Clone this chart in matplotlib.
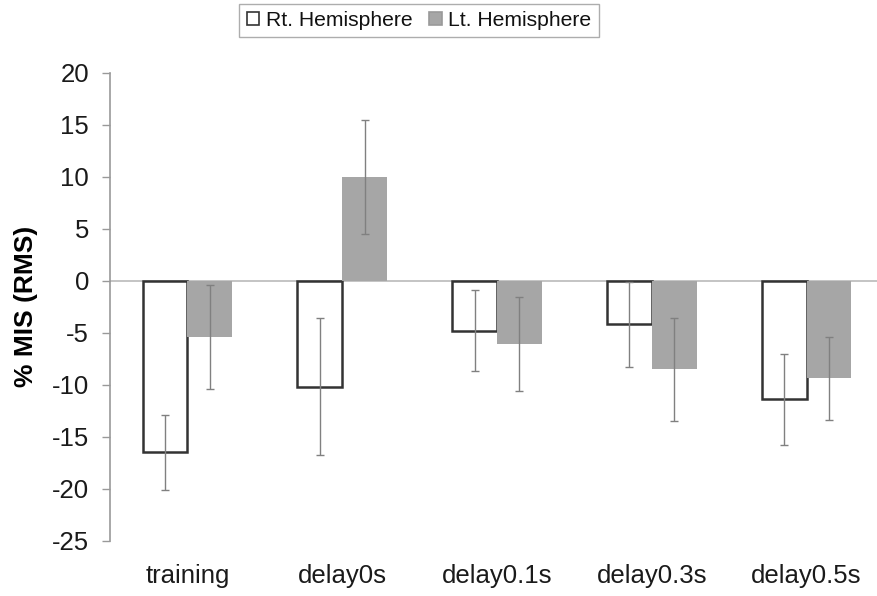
import matplotlib
matplotlib.use("Agg")
import matplotlib.pyplot as plt
import numpy as np

categories = ["training", "delay0s", "delay0.1s", "delay0.3s", "delay0.5s"]
rt_values = [-16.5, -10.2, -4.8, -4.2, -11.4]
rt_errors = [3.6, 6.6, 3.9, 4.1, 4.35]
lt_values = [-5.4, 10.0, -6.1, -8.5, -9.4]
lt_errors = [5.0, 5.5, 4.5, 4.95, 4.0]
y_ticks = [20, 15, 10, 5, 0, -5, -10, -15, -20, -25]

plt.rcParams["font.family"] = ["Liberation Sans", "DejaVu Sans"]

fig = plt.figure(figsize=(8.77, 5.96), dpi=100)
ax = fig.add_axes([110 / 877, 1 - 540.7 / 596, 774 / 877, 468 / 596])

x = np.arange(len(categories))
w = 0.29

ax.axhline(0, color="#c4c4c4", lw=1.4, zorder=1)

ax.bar(x - w / 2, rt_values, width=w, color="white", edgecolor="#333333",
       linewidth=1.8, zorder=2, label="Rt. Hemisphere")
ax.bar(x + w / 2, lt_values, width=w, color="#a6a6a6", edgecolor="none",
       zorder=2, label="Lt. Hemisphere")

err_style = dict(fmt="none", ecolor="#808080", elinewidth=1.0, capsize=2.6,
                 capthick=1.0, zorder=3)
ax.errorbar(x - w / 2, rt_values, yerr=rt_errors, **err_style)
ax.errorbar(x + w / 2, lt_values, yerr=lt_errors, **err_style)

ax.set_xlim(-0.5, len(categories) - 0.5)
ax.set_ylim(-25, 20)
ax.set_yticks(y_ticks)
ax.set_yticklabels([str(v) for v in y_ticks], fontsize=18.5, color="#1a1a1a")
ax.set_xticks(x)
ax.set_xticklabels(categories, fontsize=18.5, color="#1a1a1a")
ax.tick_params(axis="x", length=0, pad=17)
ax.tick_params(axis="y", direction="out", length=6, width=1, color="#999999", pad=9)

for side in ("top", "right", "bottom"):
    ax.spines[side].set_visible(False)
ax.spines["left"].set_color("#999999")
ax.spines["left"].set_linewidth(1.2)

ax.set_ylabel("% MIS (RMS)", fontsize=19, fontweight="bold", labelpad=10)

leg = fig.legend(loc="center", bbox_to_anchor=(419 / 877, 1 - 20.5 / 596),
                 ncol=2, fontsize=15.2, frameon=True, fancybox=False,
                 handlelength=0.6, handleheight=0.6, handletextpad=0.3,
                 columnspacing=0.8, borderpad=0.35, borderaxespad=0)
leg.get_frame().set_edgecolor("#999999")
leg.get_frame().set_linewidth(1.0)
for t in leg.get_texts():
    t.set_color("#111111")
for h in leg.legend_handles:
    h.set_linewidth(1.2)
leg.legend_handles[1].set_edgecolor("#999999")

fig.savefig("out.png", dpi=100)
